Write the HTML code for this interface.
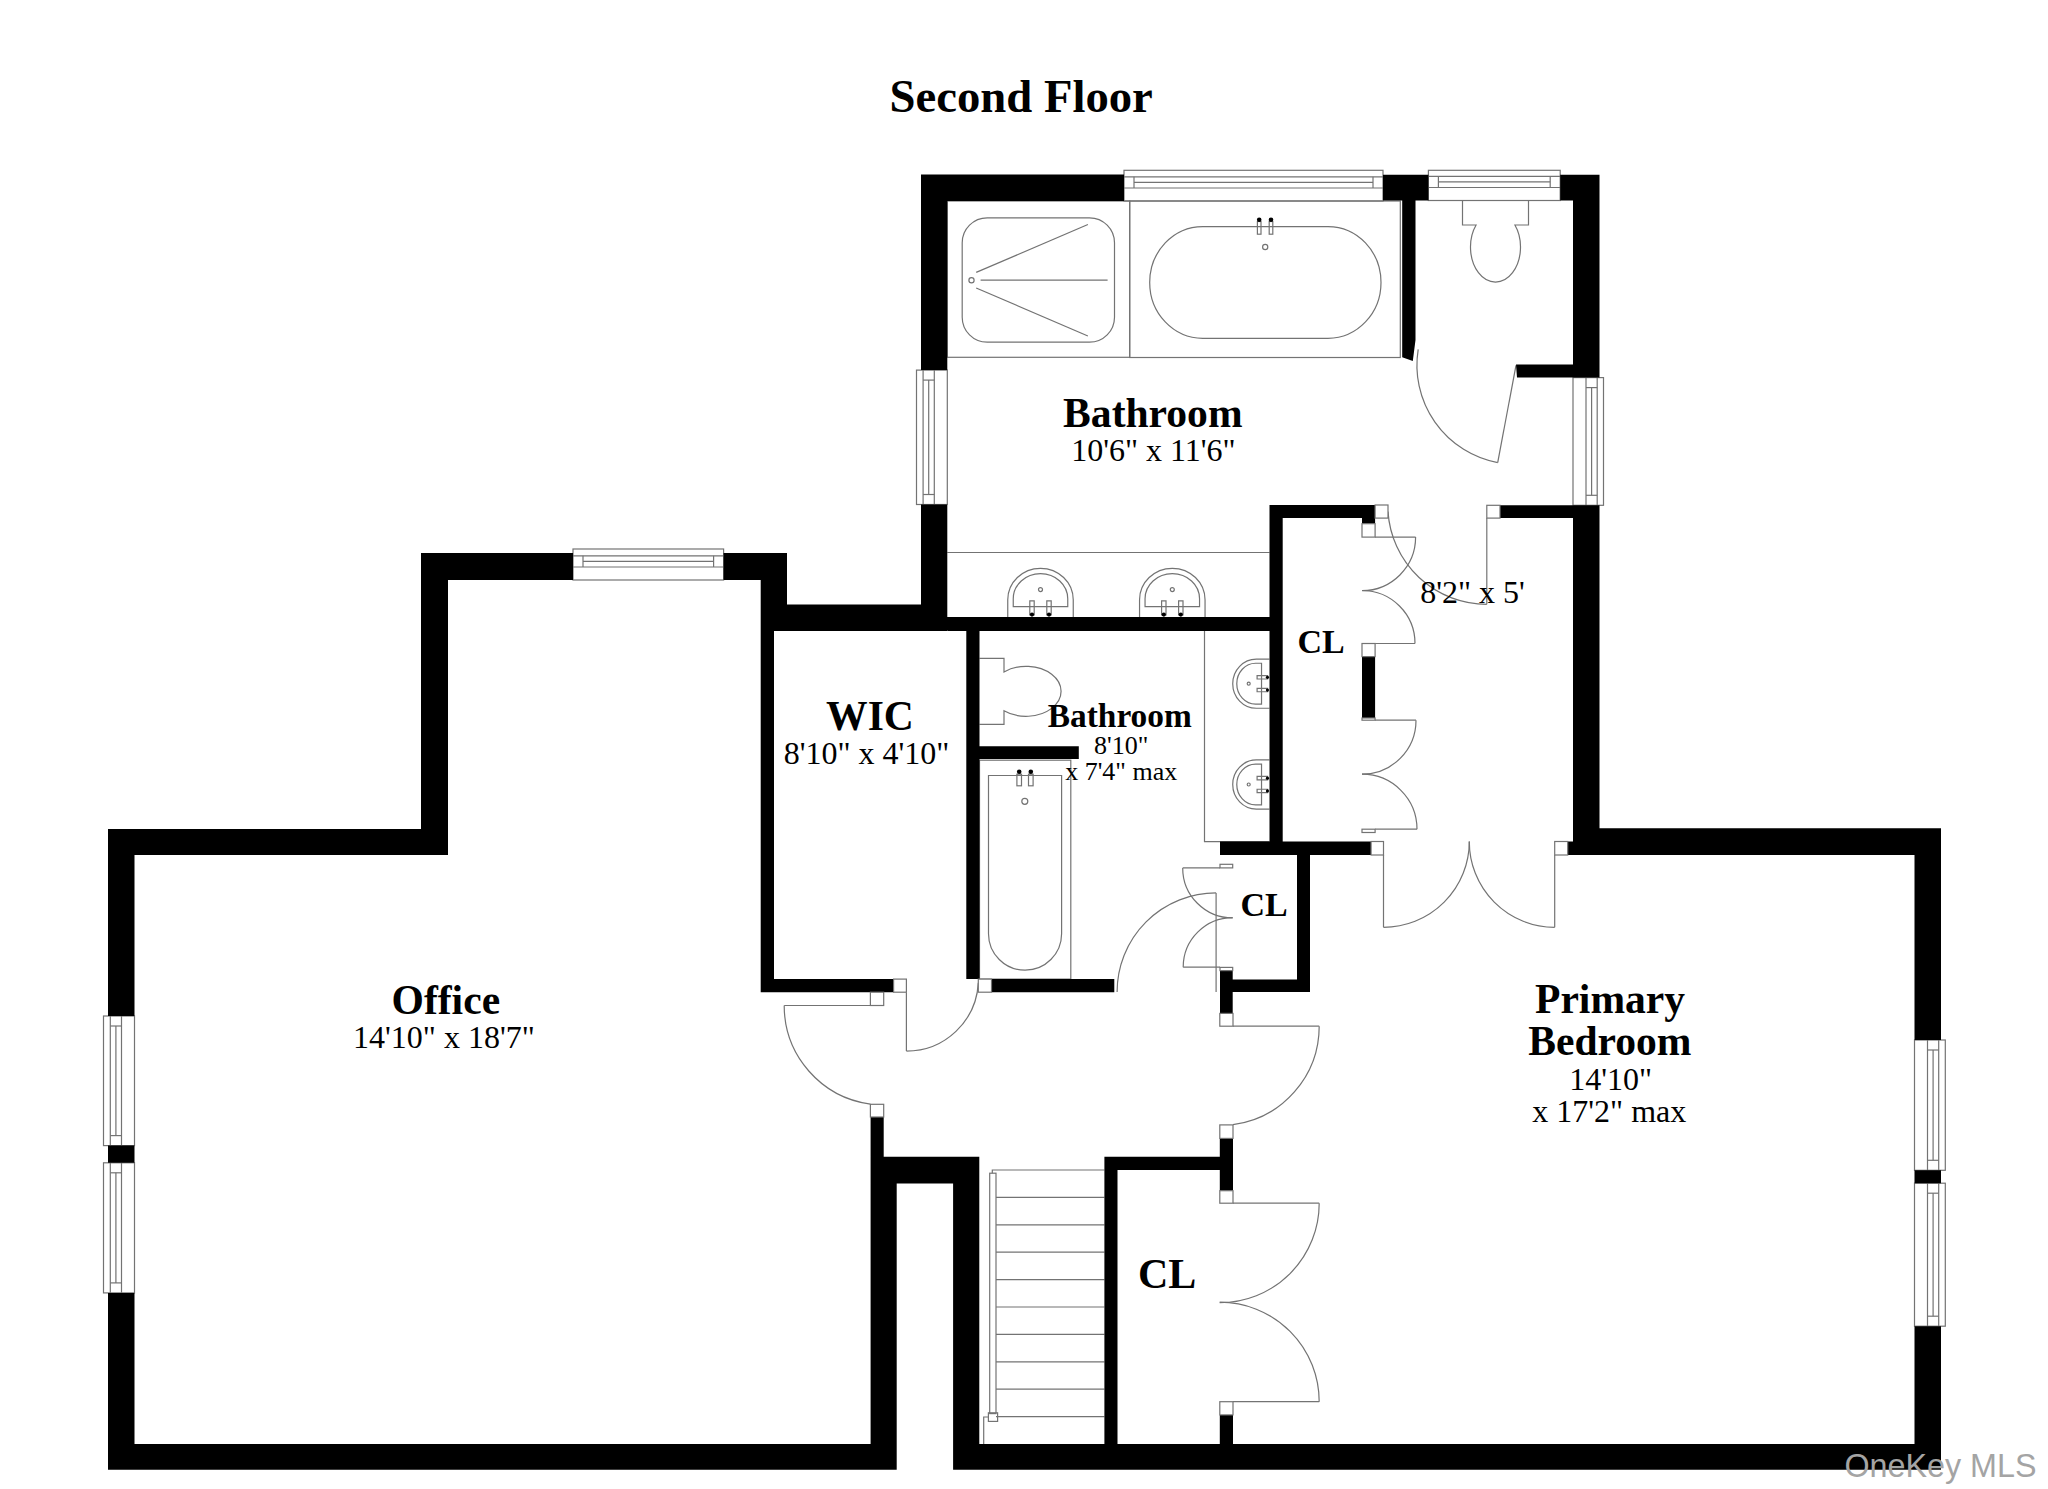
<!DOCTYPE html>
<html><head><meta charset="utf-8"><style>
html,body{margin:0;padding:0;background:#fff;overflow:hidden;}
svg{display:block;}
text{font-family:"Liberation Serif",serif;fill:#000;}
text.wm{font-family:"Liberation Sans",sans-serif;fill:#a4a4a4;}
</style></head><body>
<svg width="2048" height="1489" viewBox="0 0 2048 1489">
<rect width="2048" height="1489" fill="#fff"/>
<g fill="none" stroke="#737373" stroke-width="1.2">
<rect x="573" y="549" width="150.6" height="31"/>
<path d="M573,567 L723.6,567"/>
<path d="M573,555.8 L723.6,555.8"/>
<path d="M583,567 L583,555.8"/>
<path d="M713.6,567 L713.6,555.8"/>
<path d="M583,561.4 L713.6,561.4"/>
<rect x="103.5" y="1016" width="31.0" height="129.6"/>
<path d="M121.5,1016 L121.5,1145.6"/>
<path d="M110.3,1016 L110.3,1145.6"/>
<path d="M121.5,1026 L110.3,1026"/>
<path d="M121.5,1135.6 L110.3,1135.6"/>
<path d="M115.9,1026 L115.9,1135.6"/>
<rect x="103.5" y="1162.8" width="31.0" height="130.1"/>
<path d="M121.5,1162.8 L121.5,1292.9"/>
<path d="M110.3,1162.8 L110.3,1292.9"/>
<path d="M121.5,1172.8 L110.3,1172.8"/>
<path d="M121.5,1282.9 L110.3,1282.9"/>
<path d="M115.9,1172.8 L115.9,1282.9"/>
<rect x="1124" y="170.3" width="259" height="30.7"/>
<path d="M1124,188 L1383,188"/>
<path d="M1124,176.8 L1383,176.8"/>
<path d="M1134,188 L1134,176.8"/>
<path d="M1373,188 L1373,176.8"/>
<path d="M1134,182.4 L1373,182.4"/>
<rect x="1428.4" y="170.3" width="131.8" height="30.2"/>
<path d="M1428.4,187.5 L1560.2,187.5"/>
<path d="M1428.4,176.3 L1560.2,176.3"/>
<path d="M1438.4,187.5 L1438.4,176.3"/>
<path d="M1550.2,187.5 L1550.2,176.3"/>
<path d="M1438.4,181.9 L1550.2,181.9"/>
<rect x="916.5" y="370.1" width="30.8" height="134.4"/>
<path d="M934.3,370.1 L934.3,504.5"/>
<path d="M923.0999999999999,370.1 L923.0999999999999,504.5"/>
<path d="M934.3,380.1 L923.0999999999999,380.1"/>
<path d="M934.3,494.5 L923.0999999999999,494.5"/>
<path d="M928.6999999999999,380.1 L928.6999999999999,494.5"/>
<rect x="1573" y="377.6" width="30.5" height="127.7"/>
<path d="M1586,377.6 L1586,505.3"/>
<path d="M1597.2,377.6 L1597.2,505.3"/>
<path d="M1586,387.6 L1597.2,387.6"/>
<path d="M1586,495.3 L1597.2,495.3"/>
<path d="M1591.6,387.6 L1591.6,495.3"/>
<rect x="1914.5" y="1040" width="30.8" height="130.3"/>
<path d="M1927.5,1040 L1927.5,1170.3"/>
<path d="M1938.7,1040 L1938.7,1170.3"/>
<path d="M1927.5,1050 L1938.7,1050"/>
<path d="M1927.5,1160.3 L1938.7,1160.3"/>
<path d="M1933.1,1050 L1933.1,1160.3"/>
<rect x="1914.5" y="1183.2" width="30.8" height="143.0"/>
<path d="M1927.5,1183.2 L1927.5,1326.2"/>
<path d="M1938.7,1183.2 L1938.7,1326.2"/>
<path d="M1927.5,1193.2 L1938.7,1193.2"/>
<path d="M1927.5,1316.2 L1938.7,1316.2"/>
<path d="M1933.1,1193.2 L1933.1,1316.2"/>
<path d="M906.4,992.2 L906.4,1051.1"/>
<path d="M906.4,1051.1 A72,72 0 0 0 978.3,982.9"/>
<path d="M784.2,1005.5 L870.4,1005.5"/>
<path d="M784.2,1005.5 A99.5,99.5 0 0 0 870.4,1104.1"/>
<path d="M1216.1,991.9 L1216.1,892.9"/>
<path d="M1216.1,892.9 A99,99 0 0 0 1117.1,991.9"/>
<path d="M1233,1026.2 L1319.2,1026.2"/>
<path d="M1319.2,1026.2 A99.4,99.4 0 0 1 1233,1124.7"/>
<path d="M1233,1203.2 L1319.2,1203.2"/>
<path d="M1319.2,1203.2 A99.5,99.5 0 0 1 1219.7,1302.7"/>
<path d="M1219.7,1302.2 A99.5,99.5 0 0 1 1319.2,1401.7"/>
<path d="M1233,1401.7 L1319.2,1401.7"/>
<path d="M1383.5,855 L1383.5,927.3"/>
<path d="M1383.5,927.3 A85.8,85.8 0 0 0 1469.3,841.5"/>
<path d="M1554.7,855 L1554.7,927.3"/>
<path d="M1554.7,927.3 A85.6,85.6 0 0 1 1469.3,841.5"/>
<path d="M1375.1,537.1 L1415.6,537.1"/>
<path d="M1415.6,537.1 A53.6,53.6 0 0 1 1362,590.7"/>
<path d="M1362,590.5 A53,53 0 0 1 1415,643.5"/>
<path d="M1375.1,643.5 L1415,643.5"/>
<path d="M1375.1,720.2 L1416,720.2"/>
<path d="M1416,720.2 A54,54 0 0 1 1362,774.2"/>
<path d="M1362,774.2 A55,55 0 0 1 1417,829.2"/>
<path d="M1375.1,829.2 L1417,829.2"/>
<path d="M1182.7,867.9 L1220,867.9"/>
<path d="M1182.7,867.9 A50,50 0 0 0 1232.7,917.9"/>
<path d="M1232.7,917.7 A49.5,49.5 0 0 0 1183.2,967.2"/>
<path d="M1183.2,967.2 L1220,967.2"/>
<path d="M1486.8,518.1 L1486.8,604.3"/>
<path d="M1486.8,604.3 A99,99 0 0 1 1388,511.6"/>
<path d="M1516,365.3 L1497.7,462.6"/>
<path d="M1497.7,462.6 A99.2,99.2 0 0 1 1418.2,349.3"/>
<rect x="947.3" y="201" width="182.4" height="156.3"/>
<rect x="962.2" y="217.8" width="152.3" height="124.4" rx="25" ry="25"/>
<path d="M976.2,272.4 L1087.9,224.5"/>
<path d="M976.2,288 L1087.9,336"/>
<path d="M980.6,280.2 L1107.6,280.2"/>
<circle cx="971.5" cy="280.2" r="2.6"/>
<rect x="1129.7" y="201" width="270.6" height="156.5"/>
<rect x="1149.7" y="226.6" width="231.3" height="111.7" rx="53" ry="55.8"/>
<rect x="1257.4" y="221.5" width="3.6" height="12.7"/><rect x="1269.2" y="221.5" width="3.6" height="12.7"/>
<circle cx="1265.2" cy="247" r="2.6"/>
<path d="M947.3,552.5 L1269.5,552.5"/>
<rect x="979.5" y="760.2" width="91.3" height="218.9"/>
<path d="M988.5,775.5 H1061.6 V933.7 A36.55,36.5 0 0 1 988.5,933.7 Z"/>
<rect x="1016.9" y="774.2" width="4.6" height="11.6"/><rect x="1028.5" y="774.2" width="4.6" height="11.6"/>
<circle cx="1024.8" cy="801.3" r="3"/>
<path d="M1204.5,631 L1204.5,841.7 L1269.5,841.7"/>
<path d="M992.3,1173.2 L992.3,1170 L1104.4,1170"/>
<path d="M996,1197.4 L1104.4,1197.4"/>
<path d="M996,1224.8 L1104.4,1224.8"/>
<path d="M996,1252.2 L1104.4,1252.2"/>
<path d="M996,1279.6 L1104.4,1279.6"/>
<path d="M996,1307.0 L1104.4,1307.0"/>
<path d="M996,1334.4 L1104.4,1334.4"/>
<path d="M996,1361.8 L1104.4,1361.8"/>
<path d="M996,1389.2 L1104.4,1389.2"/>
<path d="M996,1416.6 L1104.4,1416.6"/>
<rect x="989.7" y="1173.2" width="6.3" height="240.4"/>
<rect x="988.4" y="1412.8" width="9.2" height="8.6"/>
<path d="M988.4,1417 L983.7,1417 L983.7,1444"/>
<g transform="translate(1040.5,617.2)"><path vector-effect="non-scaling-stroke" d="M-32.75,0 V-17.4 A32.75,31.5 0 0 1 32.75,-17.4 V0"/><path vector-effect="non-scaling-stroke" d="M-27.25,-10.5 V-18.4 A27.25,25.1 0 0 1 27.25,-18.4 V-10.5 Z"/><circle vector-effect="non-scaling-stroke" cx="0" cy="-27.6" r="2"/><rect vector-effect="non-scaling-stroke" x="-10.7" y="-16.4" width="4.4" height="14"/><rect vector-effect="non-scaling-stroke" x="6.3" y="-16.4" width="4.4" height="14"/><circle cx="-8.5" cy="-2.6" r="2.1" fill="#000" stroke="none"/><circle cx="8.5" cy="-2.6" r="2.1" fill="#000" stroke="none"/></g>
<g transform="translate(1172.3,617.2)"><path vector-effect="non-scaling-stroke" d="M-32.75,0 V-17.4 A32.75,31.5 0 0 1 32.75,-17.4 V0"/><path vector-effect="non-scaling-stroke" d="M-27.25,-10.5 V-18.4 A27.25,25.1 0 0 1 27.25,-18.4 V-10.5 Z"/><circle vector-effect="non-scaling-stroke" cx="0" cy="-27.6" r="2"/><rect vector-effect="non-scaling-stroke" x="-10.7" y="-16.4" width="4.4" height="14"/><rect vector-effect="non-scaling-stroke" x="6.3" y="-16.4" width="4.4" height="14"/><circle cx="-8.5" cy="-2.6" r="2.1" fill="#000" stroke="none"/><circle cx="8.5" cy="-2.6" r="2.1" fill="#000" stroke="none"/></g>
<g transform="translate(1269.4,683.7) rotate(-90) scale(0.75)"><path vector-effect="non-scaling-stroke" d="M-32.75,0 V-17.4 A32.75,31.5 0 0 1 32.75,-17.4 V0"/><path vector-effect="non-scaling-stroke" d="M-27.25,-10.5 V-18.4 A27.25,25.1 0 0 1 27.25,-18.4 V-10.5 Z"/><circle vector-effect="non-scaling-stroke" cx="0" cy="-27.6" r="2"/><rect vector-effect="non-scaling-stroke" x="-10.7" y="-16.4" width="4.4" height="14"/><rect vector-effect="non-scaling-stroke" x="6.3" y="-16.4" width="4.4" height="14"/><circle cx="-8.5" cy="-2.6" r="2.1" fill="#000" stroke="none"/><circle cx="8.5" cy="-2.6" r="2.1" fill="#000" stroke="none"/></g>
<g transform="translate(1269.4,784.5) rotate(-90) scale(0.75)"><path vector-effect="non-scaling-stroke" d="M-32.75,0 V-17.4 A32.75,31.5 0 0 1 32.75,-17.4 V0"/><path vector-effect="non-scaling-stroke" d="M-27.25,-10.5 V-18.4 A27.25,25.1 0 0 1 27.25,-18.4 V-10.5 Z"/><circle vector-effect="non-scaling-stroke" cx="0" cy="-27.6" r="2"/><rect vector-effect="non-scaling-stroke" x="-10.7" y="-16.4" width="4.4" height="14"/><rect vector-effect="non-scaling-stroke" x="6.3" y="-16.4" width="4.4" height="14"/><circle cx="-8.5" cy="-2.6" r="2.1" fill="#000" stroke="none"/><circle cx="8.5" cy="-2.6" r="2.1" fill="#000" stroke="none"/></g>
<g transform="translate(1495.5,200.5)"><path d="M-33,0 V24.5 H-19.4 A25,35 0 1 0 19.4,24.5 H33 V0"/></g>
<g transform="translate(979.5,691.3) rotate(-90)"><path d="M-33,0 V24.5 H-19.4 A25,35 0 1 0 19.4,24.5 H33 V0"/></g>
</g>
<g>
<path fill="#000" d="M421,553 H448 V855 H421 Z M421,553 H573 V580 H421 Z M723.6,553 H787 V580 H723.6 Z M760.7,553 H787 V631 H760.7 Z M760.7,604.6 H947.3 V631 H760.7 Z M760.7,604.6 H774 V992.2 H760.7 Z M760.7,979.1 H893.6 V992.2 H760.7 Z M108,829 H448 V855 H108 Z M108,829 H134.5 V1016 H108 Z M108,1145.6 H134.5 V1162.8 H108 Z M108,1292.9 H134.5 V1469.7 H108 Z M108,1444 H896.7 V1469.7 H108 Z M870.6,1117 H883.7 V1157 H870.6 Z M870.6,1156.7 H979.3 V1183.6 H870.6 Z M870.6,1156.7 H896.7 V1469.7 H870.6 Z M953.1,1156.7 H979.3 V1469.7 H953.1 Z M953.1,1444 H1941 V1469.7 H953.1 Z M921,174.6 H947.3 V370.1 H921 Z M921,504.5 H947.3 V631 H921 Z M921,174.6 H1124 V201 H921 Z M1383,174.8 H1428.4 V200.5 H1383 Z M1560.2,174.8 H1599.5 V200.5 H1560.2 Z M1573,174.8 H1599.5 V377.6 H1573 Z M1573,505.3 H1599.5 V855 H1573 Z M947.3,617.1 H1282.7 V631 H947.3 Z M966.3,631 H979.5 V979 H966.3 Z M991.5,979.1 H1114.3 V992.2 H991.5 Z M979.5,746.2 H1078.8 V759 H979.5 Z M1269.5,505 H1282.7 V855 H1269.5 Z M1269.5,505 H1375.1 V518.1 H1269.5 Z M1362,518.1 H1375.1 V523.7 H1362 Z M1362,656.6 H1375.1 V718 H1362 Z M1500,505.3 H1599.5 V518.1 H1500 Z M1220,841.5 H1371.1 V855 H1220 Z M1567.7,841.5 H1599.5 V855 H1567.7 Z M1573,828.2 H1941 V855 H1573 Z M1914.5,828.2 H1941 V1040 H1914.5 Z M1914.5,1170.3 H1941 V1183.2 H1914.5 Z M1914.5,1326.2 H1941 V1469.7 H1914.5 Z M1297,855 H1310 V992 H1297 Z M1232.7,979.5 H1310 V992 H1232.7 Z M1220,970.6 H1232.7 V1013.4 H1220 Z M1219.8,1138.4 H1233 V1190.7 H1219.8 Z M1219.8,1414.9 H1233 V1444 H1219.8 Z M1104.4,1156.7 H1233 V1170 H1104.4 Z M1104.4,1156.7 H1117.5 V1444 H1104.4 Z M1402.2,200 L1415.5,200 L1415.5,340 L1412.8,361 L1402.2,357.3 Z M1516,364.5 H1573 V377.6 H1517 Z"/>
</g>
<g fill="#fff" stroke="#737373" stroke-width="1.2">
<rect x="893.6" y="979.1" width="12.8" height="13.1"/>
<rect x="978.3" y="979.1" width="13.2" height="13.1"/>
<rect x="870.4" y="992.2" width="13.3" height="13.3"/>
<rect x="870.4" y="1104.3" width="13.3" height="12.7"/>
<rect x="1220" y="864.3" width="12.7" height="3.6"/>
<rect x="1220" y="967.4" width="12.7" height="3.2"/>
<rect x="1219.8" y="1013.4" width="13.2" height="12.8"/>
<rect x="1219.8" y="1124.9" width="13.2" height="13.5"/>
<rect x="1219.8" y="1190.7" width="13.2" height="12.5"/>
<rect x="1219.8" y="1401.7" width="13.2" height="13.2"/>
<rect x="1371.1" y="841.5" width="12.4" height="13.5"/>
<rect x="1554.7" y="841.5" width="13.0" height="13.5"/>
<rect x="1362" y="643.5" width="13.1" height="13.1"/>
<rect x="1362" y="718" width="13.1" height="2.2"/>
<rect x="1362" y="829.2" width="13.1" height="3.3"/>
<rect x="1362" y="523.7" width="13.1" height="13.4"/>
<rect x="1375.1" y="505" width="12.9" height="13.1"/>
<rect x="1486.8" y="505.3" width="13.2" height="12.8"/>
</g>
<g fill="#000"><circle cx="1259.2" cy="219.8" r="2.3"/><circle cx="1271" cy="219.8" r="2.3"/><circle cx="1019.2" cy="771.8" r="2.3"/><circle cx="1030.8" cy="771.8" r="2.3"/></g>
<g>
<text x="1021.2" y="111.6" font-size="46.7" font-weight="700" text-anchor="middle">Second Floor</text>
<text x="1152.85" y="427.2" font-size="41.6" font-weight="700" text-anchor="middle">Bathroom</text>
<text x="1153.45" y="461" font-size="32" font-weight="400" text-anchor="middle">10'6&quot; x 11'6&quot;</text>
<text x="1472.55" y="602.5" font-size="32" font-weight="400" text-anchor="middle">8'2&quot; x 5'</text>
<text x="1321" y="653.1" font-size="34" font-weight="700" text-anchor="middle">CL</text>
<text x="870" y="729.9" font-size="41.6" font-weight="700" text-anchor="middle">WIC</text>
<text x="866.55" y="763.6" font-size="32" font-weight="400" text-anchor="middle">8'10&quot; x 4'10&quot;</text>
<text x="1119.8" y="727.2" font-size="33.4" font-weight="700" text-anchor="middle">Bathroom</text>
<text x="1121.2" y="754.1" font-size="26" font-weight="400" text-anchor="middle">8'10&quot;</text>
<text x="1121.2" y="780.4" font-size="26" font-weight="400" text-anchor="middle">x 7'4&quot; max</text>
<text x="1264" y="916.4" font-size="34" font-weight="700" text-anchor="middle">CL</text>
<text x="445.85" y="1014" font-size="41.6" font-weight="700" text-anchor="middle">Office</text>
<text x="443.9" y="1047.9" font-size="32" font-weight="400" text-anchor="middle">14'10&quot; x 18'7&quot;</text>
<text x="1610.05" y="1013.4" font-size="41.6" font-weight="700" text-anchor="middle">Primary</text>
<text x="1609.85" y="1055" font-size="41.6" font-weight="700" text-anchor="middle">Bedroom</text>
<text x="1610.6" y="1089.5" font-size="32" font-weight="400" text-anchor="middle">14'10&quot;</text>
<text x="1609.3" y="1122.4" font-size="32" font-weight="400" text-anchor="middle">x 17'2&quot; max</text>
<text x="1167.15" y="1287.6" font-size="42" font-weight="700" text-anchor="middle">CL</text>
</g>
<text class="wm" x="1940.5" y="1476.6" font-size="32.3" text-anchor="middle">OneKey MLS</text>
</svg>
</body></html>
